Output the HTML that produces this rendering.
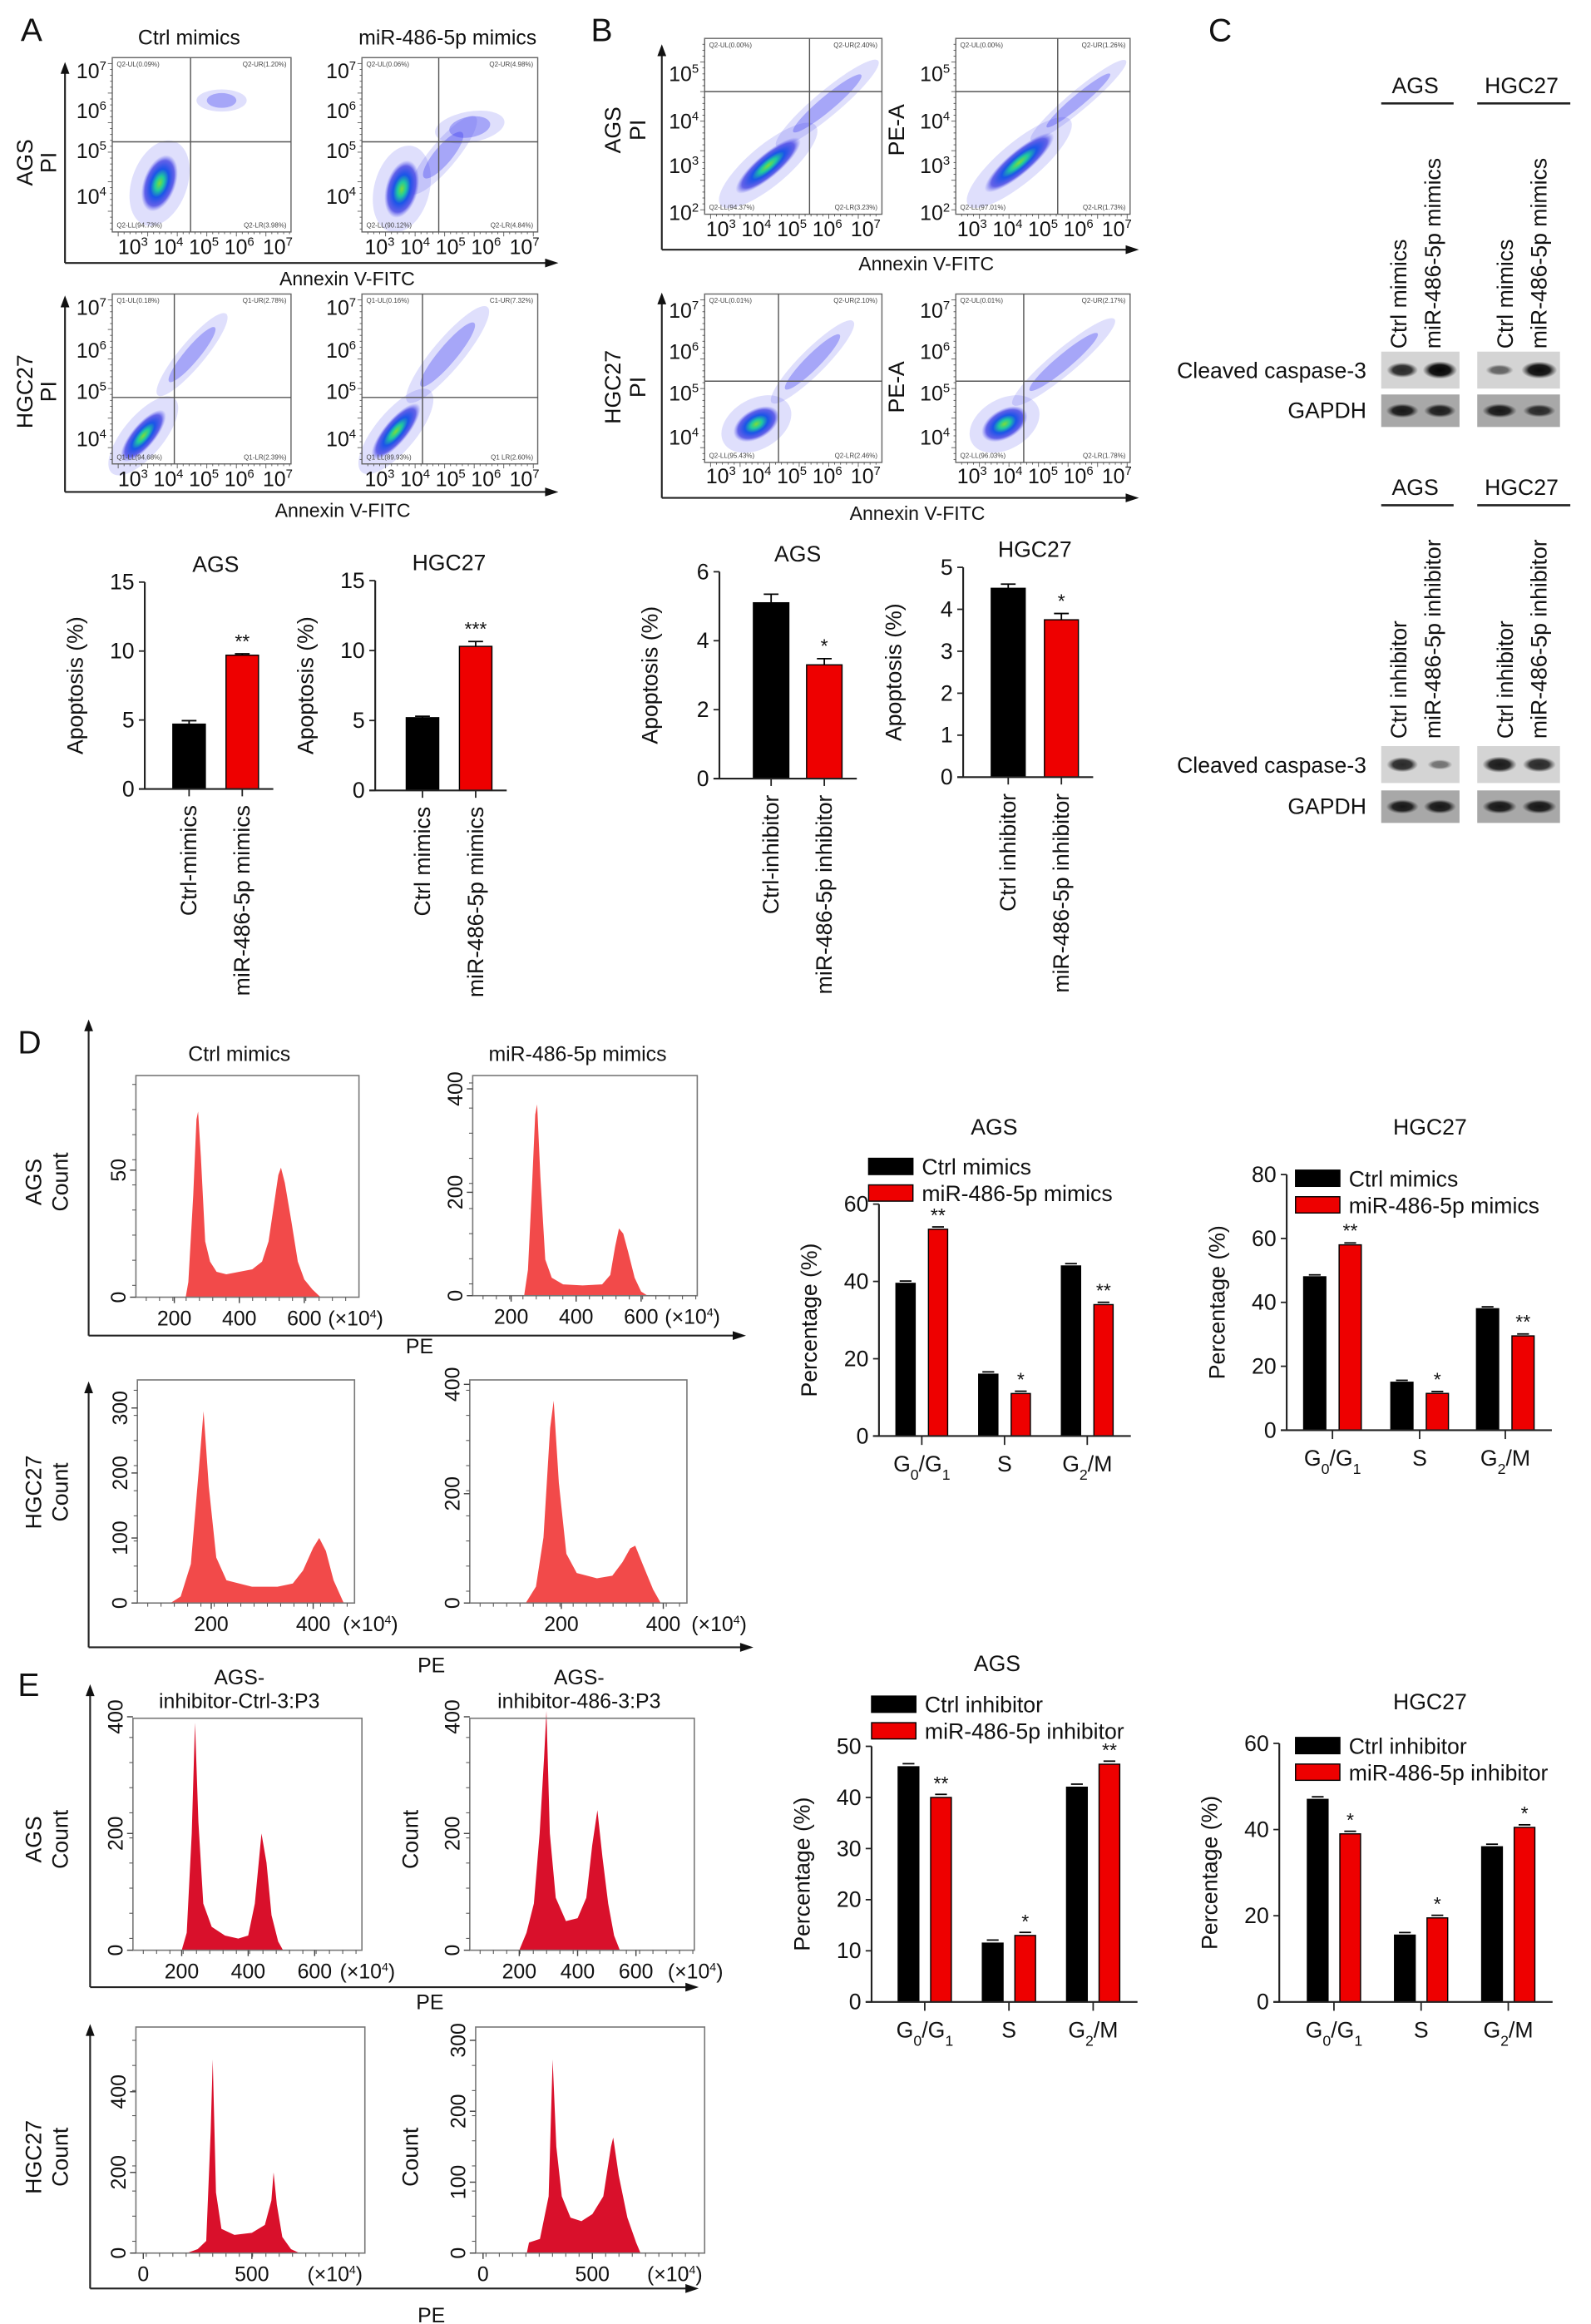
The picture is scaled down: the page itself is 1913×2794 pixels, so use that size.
<!DOCTYPE html>
<html><head><meta charset="utf-8">
<style>
html,body{margin:0;padding:0;background:#fff;}
svg{display:block;font-family:"Liberation Sans",Arial,sans-serif;}
</style></head>
<body>
<svg id="fig" width="1913" height="2794" viewBox="0 0 1077 1573" xmlns="http://www.w3.org/2000/svg">
<defs>
<radialGradient id="blob" cx="50%" cy="50%" r="50%">
<stop offset="0" stop-color="#7ddc3a"/><stop offset="0.25" stop-color="#1fc9a0"/><stop offset="0.5" stop-color="#1a55e8"/><stop offset="0.8" stop-color="#2d2de0" stop-opacity="0.7"/><stop offset="1" stop-color="#5a5af0" stop-opacity="0"/>
</radialGradient>
<radialGradient id="band" cx="50%" cy="50%" r="50%">
<stop offset="0" stop-color="#050505"/><stop offset="0.6" stop-color="#151515"/><stop offset="1" stop-color="#333" stop-opacity="0"/>
</radialGradient>
</defs>
</svg>
<script>
// ---------- chart data ----------
const aAgsCats=['Ctrl-mimics','miR-486-5p mimics'];
const aAgsVals=[4.7,9.7];
const aAgsErr=[0.25,0.1];
const aAgsSig=['','**'];
const aHgcCats=['Ctrl mimics','miR-486-5p mimics'];
const aHgcVals=[5.2,10.3];
const aHgcErr=[0.1,0.35];
const aHgcSig=['','***'];
const aTicks=[0,5,10,15];
const bAgsCats=['Ctrl-inhibitor','miR-486-5p inhibitor'];
const bAgsVals=[5.1,3.3];
const bAgsErr=[0.25,0.18];
const bAgsSig=['','*'];
const bAgsTicks=[0,2,4,6];
const bHgcCats=['Ctrl inhibitor','miR-486-5p inhibitor'];
const bHgcVals=[4.5,3.75];
const bHgcErr=[0.1,0.15];
const bHgcSig=['','*'];
const bHgcTicks=[0,1,2,3,4,5];
const phases=[['G','0','/G','1'],['S'],['G','2','/M']];
const dAgsCtrl=[39.5,16,44];
const dAgsMir=[53.5,11,34];
const dAgsSig=['**','*','**'];
const dHgcCtrl=[48,15,38];
const dHgcMir=[58,11.5,29.5];
const dHgcSig=['**','*','**'];
const eAgsCtrl=[46,11.5,42];
const eAgsMir=[40,13,46.5];
const eAgsSig=['**','*','**'];
const eHgcCtrl=[47,15.5,36];
const eHgcMir=[39,19.5,40.5];
const eHgcSig=['*','*','*'];
// histogram data (PE x10^4, counts)
const d1Pos=[235,243,258,268,273,282,295,310,330,360,400,440,470,490,505,520,528,540,560,580,600,625,650];
const d1Cnt=[0,6,40,70,73,55,22,14,10,9,10,11,14,22,35,48,51,45,30,14,7,3,0];
const d2Pos=[240,252,264,274,280,290,305,325,360,420,480,505,520,532,545,560,580,600,620];
const d2Cnt=[0,50,210,350,370,230,70,35,22,20,22,40,95,130,120,85,35,8,0];
const d3Pos=[120,140,160,175,185,195,210,230,280,330,360,380,400,412,425,440,460];
const d3Cnt=[0,10,60,200,295,180,70,35,25,25,30,50,85,100,80,35,0];
const d4Pos=[130,150,165,178,185,195,210,230,270,300,320,335,345,360,380,395];
const d4Cnt=[0,30,120,320,370,220,90,55,45,50,75,100,105,70,25,0];
const e1Pos=[200,215,230,240,250,265,290,330,370,400,420,440,455,470,490,505];
const e1Cnt=[0,30,200,390,220,80,40,25,20,25,80,200,150,60,15,0];
const e2Pos=[200,225,250,270,285,293,305,325,360,400,430,450,468,485,505,525,545];
const e2Cnt=[0,30,80,200,330,410,200,90,50,55,90,180,240,160,80,25,0];
const e3Pos=[200,250,290,310,320,335,360,420,500,560,590,600,615,640,680,720];
const e3Cnt=[0,10,30,300,480,150,60,45,50,70,130,200,120,40,10,0];
const e4Pos=[200,210,260,300,318,335,360,400,450,500,550,585,595,620,660,700,720];
const e4Cnt=[0,15,20,80,273,150,80,50,45,55,80,150,163,110,50,15,0];

// ---------- helpers ----------
const NS='http://www.w3.org/2000/svg';
const svg=document.getElementById('fig');
function mk(tag,attrs,parent){const e=document.createElementNS(NS,tag);for(const k in attrs)e.setAttribute(k,attrs[k]);(parent||svg).appendChild(e);return e;}
function T(x,y,s,size,name,anchor,rot){
  const e=mk('text',{x:x,y:y,'font-size':size,'text-anchor':anchor||'middle',fill:'#111'});
  e.textContent=s;
  if(rot)e.setAttribute('transform','rotate(-90 '+x+' '+y+')');
  
  
  return e;}
function L(x1,y1,x2,y2,name,w,col){
  const e=mk('line',{x1:x1,y1:y1,x2:x2,y2:y2,stroke:col||'#333','stroke-width':w||1});
  
  
  return e;}
function pow(x,y,exp,size,name,anchor,rot){
  const e=mk('text',{x:x,y:y,'font-size':size,'text-anchor':anchor||'middle',fill:'#111'});
  e.appendChild(document.createTextNode('10'));
  const t=mk('tspan',{dy:-size*0.4,'font-size':size*0.6},e);t.textContent=exp;
  if(rot)e.setAttribute('transform','rotate(-90 '+x+' '+y+')');
  
  
  return e;}
function arrowUp(x,y){const e=mk('path',{d:`M${x-3},${y+8} L${x},${y} L${x+3},${y+8}Z`,fill:'#111'});
  
  }
function arrowRight(x,y){const e=mk('path',{d:`M${x-9},${y-3} L${x},${y} L${x-9},${y+3}Z`,fill:'#111'});
  
  }
function bigAxes(x0,yTop,yB,xR){L(x0,yTop+4,x0,yB,'outer-y-axis',1.2,'#222');L(x0,yB,xR-4,yB,'outer-x-axis',1.2,'#222');arrowUp(x0,yTop);arrowRight(xR,yB);}

// panel letters
[['A',14,28],['B',400,28],['C',818,28],['D',12,713],['E',12,1148]].forEach(p=>{T(p[1],p[2],p[0],22,'panel-label-'+p[0].toLowerCase(),'start');});

// ---------- scatter plots ----------
function scatter(bx,by,bw,bh,vx,hy,blobs,ql,yt,xt,name){
  const g=mk('g',{});
  
  
  blobs.forEach(b=>{
    const halo=mk('ellipse',{cx:b[0],cy:b[1],rx:b[2]*1.7,ry:b[3]*1.5,fill:'#4b4bf0','fill-opacity':0.18,transform:`rotate(${b[4]} ${b[0]} ${b[1]})`},g);
    
    
    const e=mk('ellipse',{cx:b[0],cy:b[1],rx:b[2],ry:b[3],fill:b[5]?'url(#blob)':'#3c3cf0','fill-opacity':b[5]?1:0.35,transform:`rotate(${b[4]} ${b[0]} ${b[1]})`},g);
    
    
  });
  const r=mk('rect',{x:bx,y:by,width:bw,height:bh,fill:'none',stroke:'#666','stroke-width':0.8},g);
  
  
  L(vx,by,vx,by+bh,'quadrant-vline',0.8,'#555');
  L(bx,hy,bx+bw,hy,'quadrant-hline',0.8,'#555');
  const qs=[[bx+3,by+6,'start'],[bx+bw-3,by+6,'end'],[bx+3,by+bh-3,'start'],[bx+bw-3,by+bh-3,'end']];
  ql.forEach((s,i)=>{const t=T(qs[i][0],qs[i][1],s,4.5,'quadrant-label',qs[i][2]);t.setAttribute('fill','#444');});
  yt.forEach(t=>pow(bx-4,t[1]+5,t[0],14,'y-tick-label','end'));
  xt.forEach(t=>pow(t[1],t[2],t[0],14,'x-tick-label','middle'));
  for(let x=bx+4;x<bx+bw;x+=4)L(x,by+bh,x,by+bh+(x%20<4?3:1.5),'minor-tick',0.5,'#555');
  for(let y=by+4;y<by+bh;y+=4)L(bx,y,bx-(y%20<4?3:1.5),y,'minor-tick',0.5,'#555');
}
const xA=(b,y)=>[[3,b+14],[4,b+38],[5,b+62],[6,b+86],[7,b+112]].map(a=>[a[0],a[1],y]);
// A
T(128,30,'Ctrl mimics',14,'column-title');T(303,30,'miR-486-5p mimics',14,'column-title');
bigAxes(44,42,178,378);
T(22,110,'AGS',15,'row-label-ags','middle',true);T(38,110,'PI',15,'row-label-pi','middle',true);
scatter(76,39,121,118,129,96,[[108,124,11,20,20,1],[150,68,10,5,0,0]],['Q2-UL(0.09%)','Q2-UR(1.20%)','Q2-LL(94.73%)','Q2-LR(3.98%)'],[[7,48],[6,75],[5,102],[4,133]],xA(76,172),'scatter-ags-ctrl');
scatter(245,39,119,118,297,96,[[272,128,11,20,15,1],[318,86,14,7,-10,0],[300,105,20,6,-50,0]],['Q2-UL(0.06%)','Q2-UR(4.98%)','Q2-LL(90.12%)','Q2-LR(4.84%)'],[[7,48],[6,75],[5,102],[4,133]],xA(243,172),'scatter-ags-mir');
T(235,193,'Annexin V-FITC',13,'x-axis-title');
bigAxes(44,200,333,378);
T(22,265,'HGC27',15,'row-label-hgc27','middle',true);T(38,265,'PI',15,'row-label-pi','middle',true);
scatter(76,199,121,115,118,269,[[97,295,8,22,40,1],[130,240,5,24,40,0]],['Q1-UL(0.18%)','Q1-UR(2.78%)','Q1-LL(94.68%)','Q1-LR(2.39%)'],[[7,208],[6,237],[5,265],[4,297]],xA(76,329),'scatter-hgc-ctrl');
scatter(245,199,119,115,286,269,[[268,292,8,24,40,1],[303,240,6,28,40,0]],['Q1-UL(0.16%)','C1-UR(7.32%)','Q1 LL(89.93%)','Q1 LR(2.60%)'],[[7,208],[6,237],[5,265],[4,297]],xA(243,329),'scatter-hgc-mir');
T(232,350,'Annexin V-FITC',13,'x-axis-title');
// B
bigAxes(448,30,169,771);
T(420,88,'AGS',15,'row-label-ags','middle',true);T(437,88,'PI',15,'row-label-pi','middle',true);
T(612,88,'PE-A',15,'y-axis-title','middle',true);
scatter(477,26,120,119,548,62,[[520,112,8,28,50,1],[560,70,5,30,50,0]],['Q2-UL(0.00%)','Q2-UR(2.40%)','Q2-LL(94.37%)','Q2-LR(3.23%)'],[[5,50],[4,82],[3,112],[2,144]],xA(474,160),'scatter-b-ags-ctrl');
scatter(647,26,118,119,716,62,[[690,110,8,30,50,1],[730,68,4,28,50,0]],['Q2-UL(0.00%)','Q2-UR(1.26%)','Q2-LL(97.01%)','Q2-LR(1.73%)'],[[5,50],[4,82],[3,112],[2,144]],xA(644,160),'scatter-b-ags-mir');
T(627,183,'Annexin V-FITC',13,'x-axis-title');
bigAxes(448,198,337,771);
T(420,262,'HGC27',15,'row-label-hgc27','middle',true);T(437,262,'PI',15,'row-label-pi','middle',true);
T(612,262,'PE-A',15,'y-axis-title','middle',true);
scatter(477,199,120,114,527,258,[[512,287,10,17,60,1],[550,245,5,26,45,0]],['Q2-UL(0.01%)','Q2-UR(2.10%)','Q2-LL(95.43%)','Q2-LR(2.46%)'],[[7,210],[6,238],[5,266],[4,296]],xA(474,327),'scatter-b-hgc-ctrl');
scatter(647,199,118,114,693,258,[[680,287,10,17,60,1],[720,245,5,30,50,0]],['Q2-UL(0.01%)','Q2-UR(2.17%)','Q2-LL(96.03%)','Q2-LR(1.78%)'],[[7,210],[6,238],[5,266],[4,296]],xA(644,327),'scatter-b-hgc-mir');
T(621,352,'Annexin V-FITC',13,'x-axis-title');

// ---------- two-bar charts ----------
function twoBar(ax,y0,yTop,max,ticks,cats,vals,errs,sig,off,w,title,name){
  const g=mk('g',{});
  
  
  const ys=v=>y0-v/max*(y0-yTop);
  const step=36;
  L(ax,yTop,ax,y0,'y-axis',1.2,'#222');
  L(ax-4,y0,ax+off+step+w+10,y0,'x-axis',1.2,'#222');
  ticks.forEach(t=>{L(ax-4,ys(t),ax,ys(t),'y-tick',1,'#222');T(ax-7,ys(t)+5,String(t),15,'y-tick-label','end');});
  vals.forEach((v,i)=>{
    const x=ax+off+i*step, cx=x+w/2;
    const b=mk('rect',{x:x,y:ys(v),width:w,height:y0-ys(v),fill:i?'#ee0000':'#000',stroke:'#000','stroke-width':0.8},g);
    
    
    L(cx,ys(v+errs[i]),cx,ys(v),'error-bar',1,'#000');L(cx-5,ys(v+errs[i]),cx+5,ys(v+errs[i]),'error-cap',1,'#000');
    if(sig[i])T(cx,ys(v+errs[i])-4,sig[i],13,'significance-mark');
    L(cx,y0,cx,y0+5,'x-tick',1,'#222');
    T(cx+5,y0+11,cats[i],15,'x-category-label','end',true);
  });
  T(ax-42,(y0+yTop)/2,'Apoptosis (%)',15,'y-axis-title','middle',true);
  T(ax+off+step/2+w/2,yTop-7,title,15,'chart-title');
}
twoBar(98,534,394,15,aTicks,aAgsCats,aAgsVals,aAgsErr,aAgsSig,19,22,'AGS','bar-chart-a-ags');
twoBar(254,535,393,15,aTicks,aHgcCats,aHgcVals,aHgcErr,aHgcSig,21,22,'HGC27','bar-chart-a-hgc27');
twoBar(487,527,387,6,bAgsTicks,bAgsCats,bAgsVals,bAgsErr,bAgsSig,23,24,'AGS','bar-chart-b-ags');
twoBar(652,526,384,5,bHgcTicks,bHgcCats,bHgcVals,bHgcErr,bHgcSig,19,23,'HGC27','bar-chart-b-hgc27');

// ---------- western blots ----------
function blot(x,y,w,h,intens,name){
  const g=mk('g',{});
  
  
  const r=mk('rect',{x:x,y:y,width:w,height:h,fill:name.indexOf('gapdh')>=0?'#a8a8a8':'#d4d4d4'},g);
  
  
  intens.forEach((s,i)=>{
    const e=mk('ellipse',{cx:x+w*(0.27+0.48*i),cy:y+h/2,rx:w*0.2*(0.7+0.4*s),ry:h*0.17*(0.6+0.8*s),fill:'url(#band)','fill-opacity':0.3+0.7*s},g);
    
    
  });
}
function blotPanel(yh,lblY,labA,labB,topY,botY,cc,gap){
  T(958,yh,'AGS',15,'blot-header-ags');L(935,yh+7,984,yh+7,'header-underline',1.5,'#222');
  T(1030,yh,'HGC27',15,'blot-header-hgc27');L(1000,yh+7,1063,yh+7,'header-underline',1.5,'#222');
  [[952,labA],[975,labB],[1024,labA],[1047,labB]].forEach(p=>T(p[0],lblY,p[1],15,'lane-label','start',true));
  T(925,topY+18,'Cleaved caspase-3',15,'blot-label-cleaved-caspase-3','end');
  T(925,botY+16,'GAPDH',15,'blot-label-gapdh','end');
  blot(935,topY,53,25,cc[0],'blot-cleaved-caspase-3-ags');
  blot(1000,topY,56,25,cc[1],'blot-cleaved-caspase-3-hgc27');
  blot(935,botY,53,22,gap[0],'blot-gapdh-ags');
  blot(1000,botY,56,22,gap[1],'blot-gapdh-hgc27');
}
blotPanel(63,236,'Ctrl mimics','miR-486-5p mimics',238,267,[[0.75,1],[0.35,0.95]],[[0.85,0.8],[0.85,0.7]]);
blotPanel(335,500,'Ctrl inhibitor','miR-486-5p inhibitor',505,535,[[0.75,0.25],[0.85,0.75]],[[0.85,0.85],[0.85,0.85]]);

// ---------- histograms ----------
function hist(bx,by,bw,y0,ox,k,ysc,pos,cnt,yt,xt,col,name,xunitX){
  const g=mk('g',{});
  
  
  const X=v=>ox+k*v, Y=c=>y0-c*ysc;
  let d='M'+X(pos[0])+','+y0;
  pos.forEach((p,i)=>{d+=' L'+X(p).toFixed(1)+','+Y(cnt[i]).toFixed(1);});
  d+=' L'+X(pos[pos.length-1])+','+y0+'Z';
  const p=mk('path',{d:d,fill:col},g);
  
  
  const r=mk('rect',{x:bx,y:by,width:bw,height:y0-by,fill:'none',stroke:'#777','stroke-width':0.9},g);
  
  
  for(let x=bx+7;x<bx+bw;x+=9)L(x,y0,x,y0+2.5,'minor-tick',0.6,'#555');
  for(let y=y0-8;y>by;y-=17)L(bx,y,bx-2.5,y,'minor-tick',0.6,'#555');
  yt.forEach(t=>{L(bx-4,Y(t),bx,Y(t),'y-tick',0.8,'#444');T(bx-7,Y(t),String(t),14,'y-tick-label','middle',true);});
  xt.forEach(t=>{L(X(t),y0,X(t),y0+4,'x-tick',0.8,'#444');T(X(t),y0+19,String(t),14,'x-tick-label');});
  const u=mk('text',{x:xunitX,y:y0+19,'font-size':14,'text-anchor':'start',fill:'#111'});
  u.appendChild(document.createTextNode('(\u00d710'));
  const s=mk('tspan',{dy:-5,'font-size':8},u);s.textContent='4';
  const s2=mk('tspan',{dy:5},u);s2.textContent=')';
  
  
}
const red1='#f24a4a', red2='#d9102b';
// D
T(162,718,'Ctrl mimics',14,'column-title');T(391,718,'miR-486-5p mimics',14,'column-title');
bigAxes(60,690,904,505);
T(28,800,'AGS',15,'row-label-ags','middle',true);T(46,800,'Count',15,'row-label-count','middle',true);
hist(92,728,151,878,74,0.22,1.72,d1Pos,d1Cnt,[0,50],[200,400,600],red1,'histogram-d-ags-ctrl',222);
hist(320,728,152,877,302,0.22,0.35,d2Pos,d2Cnt,[0,200,400],[200,400,600],red1,'histogram-d-ags-mir',450);
T(284,916,'PE',14,'x-axis-title');
bigAxes(60,935,1115,510);
T(28,1010,'HGC27',15,'row-label-hgc27','middle',true);T(46,1010,'Count',15,'row-label-count','middle',true);
hist(93,934,147,1085,74,0.345,0.44,d3Pos,d3Cnt,[0,100,200,300],[200,400],red1,'histogram-d-hgc-ctrl',232);
hist(318,934,147,1085,311,0.345,0.37,d4Pos,d4Cnt,[0,200,400],[200,400],red1,'histogram-d-hgc-mir',468);
T(292,1132,'PE',14,'x-axis-title');
// E
T(162,1140,'AGS-',14,'column-title');T(162,1156,'inhibitor-Ctrl-3:P3',14,'column-title');
T(392,1140,'AGS-',14,'column-title');T(392,1156,'inhibitor-486-3:P3',14,'column-title');
bigAxes(61,1140,1345,473);
T(28,1245,'AGS',15,'row-label-ags','middle',true);T(46,1245,'Count',15,'row-label-count','middle',true);
T(283,1245,'Count',15,'y-axis-title','middle',true);
hist(90,1163,155,1320,78,0.225,0.395,e1Pos,e1Cnt,[0,200,400],[200,400,600],red2,'histogram-e-ags-ctrl',230);
hist(318,1163,152,1320,312,0.1975,0.395,e2Pos,e2Cnt,[0,200,400],[200,400,600],red2,'histogram-e-ags-mir',452);
T(291,1360,'PE',14,'x-axis-title');
bigAxes(61,1370,1549,473);
T(28,1460,'HGC27',15,'row-label-hgc27','middle',true);T(46,1460,'Count',15,'row-label-count','middle',true);
T(283,1460,'Count',15,'y-axis-title','middle',true);
hist(92,1372,155,1525,97,0.147,0.273,e3Pos,e3Cnt,[0,200,400],[0,500],red2,'histogram-e-hgc-ctrl',208);
hist(322,1372,155,1525,327,0.148,0.48,e4Pos,e4Cnt,[0,100,200,300],[0,500],red2,'histogram-e-hgc-mir',438);
T(292,1572,'PE',14,'x-axis-title');

// ---------- grouped bar charts ----------
function grouped(ax,y0,yTop,max,ticks,offs,dx,w,ctrl,mir,sig,title,tx,ty,leg,legNames,name){
  const g=mk('g',{});
  
  
  const ys=v=>y0-v/max*(y0-yTop);
  L(ax,yTop,ax,y0,'y-axis',1.2,'#222');
  L(ax-4,y0,ax+offs[2]+dx+w/2+12,y0,'x-axis',1.2,'#222');
  ticks.forEach(t=>{L(ax-4,ys(t),ax,ys(t),'y-tick',1,'#222');T(ax-7,ys(t)+5,String(t),15,'y-tick-label','end');});
  [ctrl,mir].forEach((ser,si)=>{
    ser.forEach((v,i)=>{
      const cx=ax+offs[i]+(si?dx:-dx);
      const b=mk('rect',{x:cx-w/2,y:ys(v),width:w,height:y0-ys(v),fill:si?'#ee0000':'#000',stroke:'#000','stroke-width':0.8},g);
      
      
      L(cx-4,ys(v+0.6),cx+4,ys(v+0.6),'error-cap',1,'#000');
      if(si&&sig[i])T(cx,ys(v)-5,sig[i],13,'significance-mark');
    });
  });
  phases.forEach((p,i)=>{
    const cx=ax+offs[i];
    L(cx,y0,cx,y0+6,'x-tick',1,'#222');
    const t=mk('text',{x:cx,y:y0+24,'font-size':15,'text-anchor':'middle',fill:'#111'},g);
    p.forEach((s,j)=>{const sp=mk('tspan',{},t);sp.textContent=s;if(j%2===1){sp.setAttribute('baseline-shift','sub');sp.setAttribute('font-size','10');}});
    
    
  });
  T(ax-42,(y0+yTop)/2,'Percentage (%)',15,'y-axis-title','middle',true);
  T(tx,ty,title,15,'chart-title');
  [0,1].forEach(i=>{
    const r=mk('rect',{x:leg[0],y:leg[1]+i*18,width:30,height:11,fill:i?'#ee0000':'#000',stroke:'#000','stroke-width':0.8},g);
    
    
    T(leg[0]+36,leg[1]+i*18+11,legNames[i],15,'legend-entry','start');
  });
}
grouped(595,972,815,60,[0,20,40,60],[29,85,141],11,13,dAgsCtrl,dAgsMir,dAgsSig,'AGS',673,768,[588,784],['Ctrl mimics','miR-486-5p mimics'],'bar-chart-d-ags');
grouped(871,968,795,80,[0,20,40,60,80],[31,90,148],12,15,dHgcCtrl,dHgcMir,dHgcSig,'HGC27',968,768,[877,792],['Ctrl mimics','miR-486-5p mimics'],'bar-chart-d-hgc27');
grouped(590,1355,1182,50,[0,10,20,30,40,50],[36,93,150],11,14,eAgsCtrl,eAgsMir,eAgsSig,'AGS',675,1131,[590,1148],['Ctrl inhibitor','miR-486-5p inhibitor'],'bar-chart-e-ags');
grouped(866,1355,1180,60,[0,20,40,60],[37,96,155],11,14,eHgcCtrl,eHgcMir,eHgcSig,'HGC27',968,1157,[877,1176],['Ctrl inhibitor','miR-486-5p inhibitor'],'bar-chart-e-hgc27');
</script>
</body></html>
